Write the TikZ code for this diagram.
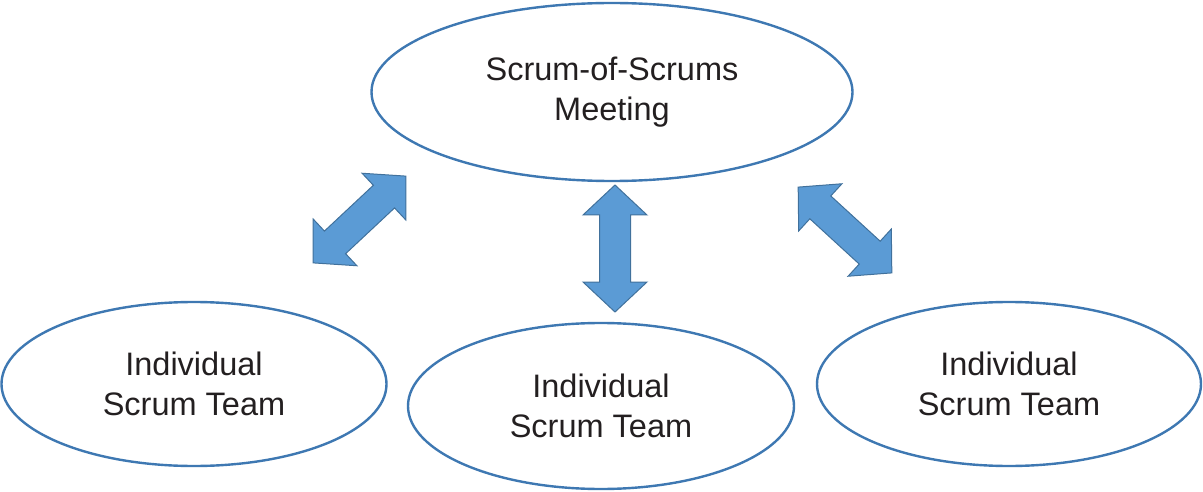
\documentclass[tikz,border=0pt]{standalone}
\usepackage{fontspec}
\setmainfont{Liberation Sans}
\usetikzlibrary{shapes.geometric}
\definecolor{ellline}{HTML}{3E78B2}
\definecolor{arrfill}{HTML}{5B9BD5}
\definecolor{arrline}{HTML}{41719C}
\definecolor{txt}{HTML}{231F20}
\tikzset{
  meet/.style={ellipse, draw=ellline, line width=2.4pt, inner sep=0pt,
    align=center, text=txt, font=\fontsize{32.5}{40}\selectfont},
  blockarr/.style={fill=arrfill, draw=arrline, line width=1pt, line join=miter}
}
\newcommand{\blockdbl}[3]{%
  \begin{scope}[shift={(#1,#2)}, rotate=#3]
    \draw[blockarr] (-63.5,0) -- (-33.5,32) -- (-33.5,15.5) -- (33.5,15.5) -- (33.5,32)
      -- (63.5,0) -- (33.5,-32) -- (33.5,-15.5) -- (-33.5,-15.5) -- (-33.5,-32) -- cycle;
  \end{scope}}
\begin{document}
\begin{tikzpicture}[x=1pt,y=-1pt]
\useasboundingbox (0,0) rectangle (1203,492);
\node[meet, minimum width=481pt, minimum height=178pt] (top) at (612,92) {Scrum-of-Scrums\\Meeting};
\node[meet, minimum width=385pt, minimum height=164pt] (left) at (194,384) {Individual\\Scrum Team};
\node[meet, minimum width=386pt, minimum height=166pt] (mid) at (601,406) {Individual\\Scrum Team};
\node[meet, minimum width=384pt, minimum height=164pt] (right) at (1009,384) {Individual\\Scrum Team};
\blockdbl{359.5}{219.5}{43.1}
\blockdbl{615}{248.5}{90}
\blockdbl{845}{230}{-42.5}
\end{tikzpicture}
\end{document}
